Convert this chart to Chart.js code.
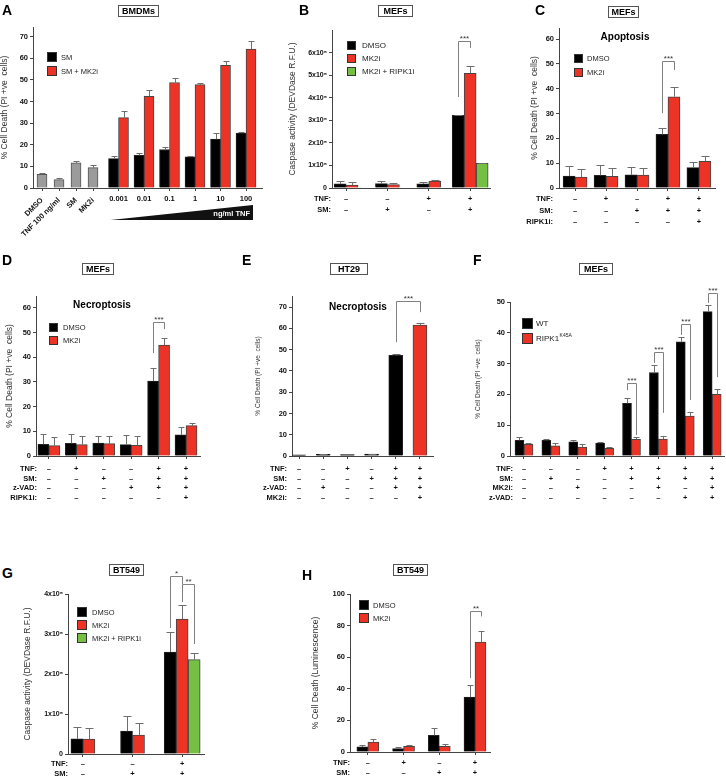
<!DOCTYPE html>
<html>
<head>
<meta charset="utf-8">
<script src="https://cdn.jsdelivr.net/npm/chart.js@4.4.0/dist/chart.umd.min.js"></script>
<style>
  body { margin: 0; background: #fff; }
  #wrap { position: relative; width: 726px; height: 779px; overflow: hidden; font-family: 'Liberation Sans', Arial, sans-serif; }
  canvas { position: absolute; }
  .lt { position: absolute; font-weight: bold; font-size: 14px; line-height: 14px; }
  .bx { position: absolute; height: 12px; box-sizing: border-box; border: 1px solid #555; font-weight: bold; font-size: 9px; line-height: 10px; text-align: center; }
  .sub { position: absolute; font-weight: bold; font-size: 10px; line-height: 12px; transform: translateX(-50%); white-space: nowrap; }
</style>
</head>
<body>
<div id="wrap">
  <canvas id="cA" width="270" height="245" style="left:0;top:0"></canvas>
  <canvas id="cB" width="215" height="245" style="left:280px;top:0"></canvas>
  <canvas id="cC" width="201" height="245" style="left:525px;top:0"></canvas>
  <canvas id="cD" width="210" height="255" style="left:0;top:250px"></canvas>
  <canvas id="cE" width="190" height="255" style="left:250px;top:250px"></canvas>
  <canvas id="cF" width="256" height="255" style="left:470px;top:250px"></canvas>
  <canvas id="cG" width="200" height="219" style="left:15px;top:560px"></canvas>
  <canvas id="cH" width="190" height="219" style="left:305px;top:560px"></canvas>

  <div class="lt" style="left:2px;top:3px">A</div>
  <div class="lt" style="left:299px;top:3px">B</div>
  <div class="lt" style="left:535px;top:3px">C</div>
  <div class="lt" style="left:2px;top:253px">D</div>
  <div class="lt" style="left:242px;top:253px">E</div>
  <div class="lt" style="left:473px;top:253px">F</div>
  <div class="lt" style="left:2px;top:566px">G</div>
  <div class="lt" style="left:302px;top:568px">H</div>

  <div class="bx" style="left:118px;top:5px;width:41px">BMDMs</div>
  <div class="bx" style="left:378px;top:5px;width:35px">MEFs</div>
  <div class="bx" style="left:608px;top:6px;width:31px">MEFs</div>
  <div class="bx" style="left:82px;top:263px;width:32px">MEFs</div>
  <div class="bx" style="left:330px;top:263px;width:38px">HT29</div>
  <div class="bx" style="left:579px;top:263px;width:34px">MEFs</div>
  <div class="bx" style="left:109px;top:564px;width:35px">BT549</div>
  <div class="bx" style="left:393px;top:564px;width:35px">BT549</div>

  <div class="sub" style="left:625px;top:31px">Apoptosis</div>
  <div class="sub" style="left:102px;top:299px">Necroptosis</div>
  <div class="sub" style="left:358px;top:301px">Necroptosis</div>
</div>

<script>
const FONT = "'Liberation Sans', Arial, Helvetica, sans-serif";
const AXIS = '#444';
const BLACK = '#000000', RED = '#ec3326', GREEN = '#74bf44', GREY = '#9b9b9b';

// ---------- A: BMDMs ----------
const aCats = ['DMSO', 'TNF 100 ng/ml', 'SM', 'MK2i', '0.001', '0.01', '0.1', '1', '10', '100'];
const aPos = [0, 1, 2, 3, 4.5, 6, 7.5, 9, 10.5, 12];
const aCtrl = [6.3, 3.9, 11.6, 9.4, null, null, null, null, null, null];
const aCtrlErr = [0.5, 0.6, 0.7, 1.1, 0, 0, 0, 0, 0, 0];
const aSM = [null, null, null, null, 13.6, 15.1, 17.8, 14.4, 22.6, 25.4];
const aSMErr = [0, 0, 0, 0, 1.1, 1.1, 1.1, 0.3, 3.0, 0.3];
const aSMMK2i = [null, null, null, null, 32.6, 42.4, 48.8, 47.8, 56.8, 64.3];
const aSMMK2iErr = [0, 0, 0, 0, 2.9, 2.8, 2.3, 0.8, 1.8, 3.9];

// ---------- B: MEFs caspase ----------
const bTNF = ['–', '–', '+', '+'];
const bSM = ['–', '+', '–', '+'];
const bDMSO = [17000, 18000, 17000, 300000];
const bDMSOErr = [11000, 9000, 8000, 2000];
const bMK2i = [12000, 14000, 29000, 474000];
const bMK2iErr = [11000, 8000, 3000, 31000];
const bMK2iRIPK1i = [null, null, null, 102000];
const bMK2iRIPK1iErr = [0, 0, 0, 2000];
const bYLabels = ['0', '1x10⁵', '2x10⁵', '3x10⁵', '4x10⁵', '5x10⁵', '6x10⁵'];
const bSig = [{ from: [0, 3], to: [1, 3], top: 607000, left: 376000, right: 579000, text: '***' }];

// ---------- C: MEFs apoptosis ----------
const cTNF = ['–', '+', '–', '+', '+'];
const cSM = ['–', '–', '+', '+', '+'];
const cRIPK1i = ['–', '–', '–', '–', '+'];
const cDMSO = [4.8, 5.1, 5.3, 21.6, 8.2];
const cDMSOErr = [4.2, 4.1, 3.0, 2.7, 2.2];
const cMK2i = [4.4, 4.7, 5.2, 36.8, 10.8];
const cMK2iErr = [3.3, 3.5, 2.8, 4.0, 2.0];
const cSig = [{ from: [0, 3], to: [1, 3], top: 51.2, left: 30.2, right: 47.6, text: '***' }];

// ---------- D: MEFs necroptosis ----------
const dTNF = ['–', '+', '–', '–', '+', '+'];
const dSM = ['–', '–', '+', '–', '+', '+'];
const dZVAD = ['–', '–', '–', '+', '+', '+'];
const dRIPK1i = ['–', '–', '–', '–', '–', '+'];
const dDMSO = [4.7, 5.1, 5.2, 4.6, 30.3, 8.6];
const dDMSOErr = [4.2, 4.0, 3.0, 3.9, 5.2, 3.2];
const dMK2i = [4.2, 4.6, 5.0, 4.3, 44.9, 12.3];
const dMK2iErr = [3.5, 3.5, 3.0, 3.6, 2.8, 1.0];
const dSig = [{ from: [0, 4], to: [1, 4], top: 54.3, left: 41.7, right: 51.4, text: '***' }];

// ---------- E: HT29 necroptosis ----------
const eTNF = ['–', '–', '+', '–', '+', '+'];
const eSM = ['–', '–', '–', '+', '+', '+'];
const eZVAD = ['–', '+', '–', '–', '+', '+'];
const eMK2iRow = ['–', '–', '–', '–', '–', '+'];
const eCtrl = [0.5, 0.8, 0.7, 0.9, 47.3, null];
const eCtrlErr = [0.1, 0.2, 0.2, 0.2, 0.5, 0];
const eMK2i = [null, null, null, null, null, 61.5];
const eMK2iErr = [0, 0, 0, 0, 0, 0.9];
const eSig = [{ from: [0, 4], to: [1, 5], top: 72.8, left: 53.5, right: 67.6, text: '***' }];

// ---------- F: MEFs WT vs RIPK1 K45A ----------
const fTNF = ['–', '–', '–', '+', '+', '+', '+', '+'];
const fSM = ['–', '+', '–', '–', '+', '+', '+', '+'];
const fMK2i = ['–', '–', '+', '–', '–', '+', '–', '+'];
const fZVAD = ['–', '–', '–', '–', '–', '–', '+', '+'];
const fWT = [5.1, 5.1, 4.6, 4.2, 17.1, 27.1, 37.1, 46.9];
const fWTErr = [1.0, 0.4, 0.5, 0.2, 1.8, 2.6, 1.4, 2.2];
const fK45A = [3.8, 3.3, 2.9, 2.5, 5.4, 5.5, 13.0, 20.0];
const fK45AErr = [0.4, 0.8, 1.0, 0.3, 0.9, 0.9, 1.4, 1.9];
const fSig = [
  { from: [0, 4], to: [1, 4], top: 23.7, left: 21.4, right: 6.8, text: '***' },
  { from: [0, 5], to: [1, 5], top: 33.8, left: 30.2, right: 14.0, text: '***' },
  { from: [0, 6], to: [1, 6], top: 42.9, left: 39.3, right: 18.2, text: '***' },
  { from: [0, 7], to: [1, 7], top: 52.9, left: 49.7, right: 25.6, text: '***' }
];

// ---------- G: BT549 caspase ----------
const gTNF = ['–', '–', '+'];
const gSM = ['–', '+', '+'];
const gDMSO = [38000, 57000, 255000];
const gDMSOErr = [30000, 38000, 50000];
const gMK2i = [37000, 47000, 337000];
const gMK2iErr = [29000, 31000, 36000];
const gMK2iRIPK1i = [null, null, 236000];
const gMK2iRIPK1iErr = [0, 0, 17000];
const gYLabels = ['0', '1x10⁵', '2x10⁵', '3x10⁵', '4x10⁵'];
const gSig = [
  { from: [0, 2], to: [1, 2], top: 445000, left: 315000, right: 425000, text: '*' },
  { from: [1, 2], to: [2, 2], top: 425000, left: 380000, right: 275000, text: '**' }
];

// ---------- H: BT549 luminescence ----------
const hTNF = ['–', '+', '–', '+'];
const hSM = ['–', '–', '+', '+'];
const hDMSO = [3.2, 2.1, 10.5, 34.7];
const hDMSOErr = [1.4, 0.8, 4.7, 7.4];
const hMK2i = [6.3, 3.6, 3.6, 69.5];
const hMK2iErr = [1.9, 0.8, 1.7, 7.3];
const hSig = [{ from: [0, 3], to: [1, 3], top: 89, left: 46.7, right: 85.8, text: '**' }];

// ---------------- plugins ----------------
const cfgs = {};
const crisp = v => Math.round(v) + 0.5;

const errorBars = {
  id: 'errorBars',
  afterDatasetsDraw(chart) {
    const ctx = chart.ctx, y = chart.scales.y;
    chart.data.datasets.forEach((ds, d) => {
      const meta = chart.getDatasetMeta(d);
      ds.data.forEach((v, i) => {
        const e = ds.errors[i];
        if (v == null || !e) return;
        const bar = meta.data[i];
        const x = crisp(bar.x);
        const top = crisp(y.getPixelForValue(v + e));
        const cap = Math.max(2, Math.round(bar.width * 0.3));
        ctx.save();
        ctx.strokeStyle = '#6e6e6e';
        ctx.lineWidth = 1;
        ctx.beginPath();
        ctx.moveTo(x, bar.y);
        ctx.lineTo(x, top);
        ctx.moveTo(x - cap, top);
        ctx.lineTo(x + cap, top);
        ctx.stroke();
        ctx.restore();
      });
    });
  }
};

const brackets = {
  id: 'brackets',
  afterDraw(chart) {
    const c = cfgs[chart.canvas.id];
    if (!c.sig) return;
    const ctx = chart.ctx, y = chart.scales.y;
    c.sig.forEach(s => {
      const xa = crisp(chart.getDatasetMeta(s.from[0]).data[s.from[1]].x);
      const xb = crisp(chart.getDatasetMeta(s.to[0]).data[s.to[1]].x);
      const yt = crisp(y.getPixelForValue(s.top));
      ctx.save();
      ctx.strokeStyle = '#808080';
      ctx.lineWidth = 1;
      ctx.beginPath();
      ctx.moveTo(xa, y.getPixelForValue(s.left));
      ctx.lineTo(xa, yt);
      ctx.lineTo(xb, yt);
      ctx.lineTo(xb, y.getPixelForValue(s.right));
      ctx.stroke();
      ctx.fillStyle = '#333';
      ctx.font = '8px ' + FONT;
      ctx.textAlign = 'center';
      ctx.textBaseline = 'alphabetic';
      ctx.fillText(s.text, (xa + xb) / 2, yt - 1);
      ctx.restore();
    });
  }
};

const boxLegend = {
  id: 'boxLegend',
  afterDraw(chart) {
    const L = cfgs[chart.canvas.id].legend;
    if (!L) return;
    const ctx = chart.ctx, a = chart.chartArea;
    let row = 0;
    ctx.save();
    chart.data.datasets.forEach(ds => {
      if (ds.inLegend === false) return;
      const x = Math.round(a.left + L.dx), yb = Math.round(a.top + L.dy + row * L.step);
      ctx.fillStyle = ds.backgroundColor;
      ctx.fillRect(x, yb, L.box, L.box);
      ctx.strokeStyle = '#333';
      ctx.lineWidth = 1;
      ctx.strokeRect(x + 0.5, yb + 0.5, L.box - 1, L.box - 1);
      ctx.fillStyle = '#222';
      ctx.font = L.size + 'px ' + FONT;
      ctx.textAlign = 'left';
      ctx.textBaseline = 'middle';
      const tx = x + L.box + L.gap, ty = yb + L.box / 2 + 0.5;
      ctx.fillText(ds.label, tx, ty);
      if (ds.sup) {
        const w = ctx.measureText(ds.label).width;
        ctx.font = (L.size * 0.62).toFixed(1) + 'px ' + FONT;
        ctx.fillText(ds.sup, tx + w + 0.5, ty - L.size * 0.38);
        ctx.font = L.size + 'px ' + FONT;
      }
      row++;
    });
    ctx.restore();
  }
};

const condRows = {
  id: 'condRows',
  afterDraw(chart) {
    const c = cfgs[chart.canvas.id];
    if (!c.rowNames) return;
    const ctx = chart.ctx, x = chart.scales.x;
    ctx.save();
    ctx.font = 'bold ' + c.tickSize + 'px ' + FONT;
    ctx.fillStyle = '#111';
    ctx.textAlign = 'right';
    ctx.textBaseline = 'middle';
    c.rowNames.forEach((r, i) => {
      ctx.fillText(r, chart.chartArea.left + c.rowDx, x.top + 3 + c.tickPad + c.lh * (i + 0.5));
    });
    ctx.restore();
  }
};

const wedge = {
  id: 'wedge',
  afterDraw(chart) {
    const c = cfgs[chart.canvas.id];
    if (!c.wedge) return;
    const ctx = chart.ctx, x = chart.scales.x, b = chart.chartArea.bottom;
    const x0 = x.getPixelForValue(aPos[4]) - 8, x1 = x.getPixelForValue(aPos[9]) + 7;
    ctx.save();
    ctx.fillStyle = '#111';
    ctx.beginPath();
    ctx.moveTo(x0, b + 32);
    ctx.lineTo(x1, b + 17);
    ctx.lineTo(x1, b + 32);
    ctx.closePath();
    ctx.fill();
    ctx.fillStyle = '#fff';
    ctx.font = 'bold 7.5px ' + FONT;
    ctx.textAlign = 'right';
    ctx.textBaseline = 'middle';
    ctx.fillText('ng/ml TNF', x1 - 3, b + 26);
    ctx.restore();
  }
};

// ---------------- panel builder ----------------
function panel(id, o) {
  cfgs[id] = o;
  const datasets = o.series.map(s => ({
    label: s.label,
    sup: s.sup,
    inLegend: s.inLegend,
    data: s.data,
    errors: s.err,
    backgroundColor: s.color,
    borderColor: s.border || '#222',
    borderWidth: 1,
    borderSkipped: 'start',
    barThickness: o.barW,
    skipNull: true
  }));
  const tickFont = { family: FONT, size: o.tickSize, weight: 'bold', lineHeight: o.lh + 'px' };
  const scales = {
    x: {
      type: 'linear', min: o.xMin, max: o.xMax, bounds: 'data', offset: false,
      afterBuildTicks: s => { s.ticks = o.pos.map(v => ({ value: v })); },
      afterFit: s => { s.height = o.xH; },
      grid: { drawOnChartArea: false, offset: false, tickLength: 3, color: AXIS },
      border: { color: AXIS, width: 1 },
      ticks: {
        autoSkip: false, minRotation: 0, maxRotation: 0, padding: o.tickPad, color: '#111',
        font: tickFont, callback: o.xLabel
      }
    },
    y: {
      type: 'linear', min: 0, max: o.yMax, bounds: 'data',
      afterFit: s => { s.width = o.yW; },
      grid: { drawOnChartArea: false, tickLength: 3, color: AXIS },
      border: { color: AXIS, width: 1 },
      ticks: {
        stepSize: o.step, includeBounds: false, padding: 2, color: '#111',
        font: { family: FONT, size: o.yTickSize || 7.5, weight: 'bold' },
        callback: o.yLabel || (v => v)
      },
      title: {
        display: true, text: o.yTitle, color: '#333', padding: { top: o.titlePad, bottom: 0 },
        font: { family: FONT, size: o.titleSize || 8.5, weight: 'normal' }
      }
    }
  };
  Object.assign(scales, o.extraScales || {});
  return new Chart(document.getElementById(id), {
    type: 'bar',
    data: { labels: o.pos, datasets },
    options: {
      responsive: false,
      animation: false,
      devicePixelRatio: 1,
      layout: { padding: { top: o.padTop, right: o.padRight, left: 0, bottom: 0 } },
      plugins: { legend: { display: false }, tooltip: { enabled: false } },
      scales
    },
    plugins: [errorBars, brackets, boxLegend, condRows, wedge]
  });
}

const rowsLabel = rows => (v, i) => rows.map(r => r[i]);
const idx = n => Array.from({ length: n }, (_, i) => i);

// A
panel('cA', {
  pos: aPos, xMin: -0.53, xMax: 12.94, barW: 10,
  padTop: 27, padRight: 8, yW: 33, xH: 57,
  yMax: 74.5, step: 10, yTitle: '% Cell Death (PI +ve  cells)', titlePad: 0,
  tickSize: 7.5, lh: 9, tickPad: 3.5,
  xLabel: (v, i) => (i >= 4 ? aCats[i] : ''),
  wedge: true,
  legend: { dx: 14, dy: 25, box: 10, step: 14, gap: 4, size: 7.5 },
  series: [
    { label: 'Control', inLegend: false, data: aCtrl, err: aCtrlErr, color: GREY, border: '#555' },
    { label: 'SM', data: aSM, err: aSMErr, color: BLACK },
    { label: 'SM + MK2i', data: aSMMK2i, err: aSMMK2iErr, color: RED, border: '#444' }
  ],
  extraScales: {
    // rotated control labels, anchored on the y = 0 line so they are not clipped
    x2: {
      type: 'linear', axis: 'x', position: { y: 0 }, min: -0.53, max: 12.94, bounds: 'data', offset: false,
      afterBuildTicks: s => { s.ticks = aPos.slice(0, 4).map(v => ({ value: v })); },
      grid: { display: false },
      border: { display: false },
      ticks: {
        autoSkip: false, minRotation: 45, maxRotation: 45, padding: 0, color: '#111',
        font: { family: FONT, size: 7.5, weight: 'bold' },
        callback: (v, i) => aCats[i]
      }
    }
  }
});

// B
panel('cB', {
  pos: idx(4), xMin: -0.34, xMax: 3.48, barW: 12,
  padTop: 30, padRight: 5, yW: 52, xH: 57,
  yMax: 653000, step: 100000, yLabel: v => bYLabels[Math.round(v / 100000)], yTickSize: 7,
  yTitle: 'Caspase activity (DEVDase R.F.U.)', titlePad: 8,
  tickSize: 7.5, lh: 11, tickPad: 2.5,
  xLabel: rowsLabel([bTNF, bSM]), rowNames: ['TNF:', 'SM:'], rowDx: -1,
  sig: bSig,
  legend: { dx: 15, dy: 11, box: 9, step: 13, gap: 6, size: 8 },
  series: [
    { label: 'DMSO', data: bDMSO, err: bDMSOErr, color: BLACK },
    { label: 'MK2i', data: bMK2i, err: bMK2iErr, color: RED, border: '#444' },
    { label: 'MK2i + RIPK1i', data: bMK2iRIPK1i, err: bMK2iRIPK1iErr, color: GREEN, border: '#444' }
  ]
});

// C
panel('cC', {
  pos: idx(5), xMin: -0.52, xMax: 4.52, barW: 12,
  padTop: 28, padRight: 11, yW: 34, xH: 57,
  yMax: 64.5, step: 10, yTitle: '% Cell Death (PI +ve  cells)', titlePad: 4.5,
  tickSize: 7.5, lh: 11.5, tickPad: 2.5,
  xLabel: rowsLabel([cTNF, cSM, cRIPK1i]), rowNames: ['TNF:', 'SM:', 'RIPK1i:'], rowDx: -6,
  sig: cSig,
  legend: { dx: 15, dy: 26, box: 9, step: 14, gap: 4, size: 7.5 },
  series: [
    { label: 'DMSO', data: cDMSO, err: cDMSOErr, color: BLACK },
    { label: 'MK2i', data: cMK2i, err: cMK2iErr, color: RED, border: '#444' }
  ]
});

// D
panel('cD', {
  pos: idx(6), xMin: -0.47, xMax: 5.51, barW: 11,
  padTop: 46, padRight: 10, yW: 36, xH: 49,
  yMax: 64.8, step: 10, yTitle: '% Cell Death (PI +ve  cells)', titlePad: 5,
  tickSize: 7.5, lh: 9.6, tickPad: 5.2,
  xLabel: rowsLabel([dTNF, dSM, dZVAD, dRIPK1i]), rowNames: ['TNF:', 'SM:', 'z-VAD:', 'RIPK1i:'], rowDx: 1,
  sig: dSig,
  legend: { dx: 13, dy: 27, box: 9, step: 13, gap: 5, size: 7.5 },
  series: [
    { label: 'DMSO', data: dDMSO, err: dDMSOErr, color: BLACK },
    { label: 'MK2i', data: dMK2i, err: dMK2iErr, color: RED, border: '#444' }
  ]
});

// E
panel('cE', {
  pos: idx(6), xMin: -0.29, xMax: 5.54, barW: 14,
  padTop: 46, padRight: 7, yW: 42, xH: 49,
  yMax: 75.2, step: 10, yTitle: '% Cell Death (PI +ve  cells)', titlePad: 4, titleSize: 6.5,
  tickSize: 7.5, lh: 9.6, tickPad: 5.2,
  xLabel: rowsLabel([eTNF, eSM, eZVAD, eMK2iRow]), rowNames: ['TNF:', 'SM:', 'z-VAD:', 'MK2i:'], rowDx: -5,
  sig: eSig,
  series: [
    { label: 'DMSO', data: eCtrl, err: eCtrlErr, color: BLACK },
    { label: 'MK2i', data: eMK2i, err: eMK2iErr, color: RED, border: '#444' }
  ]
});

// F
panel('cF', {
  pos: idx(8), xMin: -0.52, xMax: 7.44, barW: 9,
  padTop: 52, padRight: 2, yW: 40, xH: 49,
  yMax: 50, step: 10, yTitle: '% Cell Death (PI +ve  cells)', titlePad: 4, titleSize: 6.5,
  tickSize: 7.5, lh: 9.6, tickPad: 5.2,
  xLabel: rowsLabel([fTNF, fSM, fMK2i, fZVAD]), rowNames: ['TNF:', 'SM:', 'MK2i:', 'z-VAD:'], rowDx: 3,
  sig: fSig,
  legend: { dx: 12, dy: 16, box: 11, step: 15, gap: 3, size: 8 },
  series: [
    { label: 'WT', data: fWT, err: fWTErr, color: BLACK },
    { label: 'RIPK1', sup: 'K45A', data: fK45A, err: fK45AErr, color: RED, border: '#444' }
  ]
});

// G
panel('cG', {
  pos: idx(3), xMin: -0.3, xMax: 2.44, barW: 12,
  padTop: 34, padRight: 11, yW: 53, xH: 25,
  yMax: 400000, step: 100000, yLabel: v => gYLabels[Math.round(v / 100000)], yTickSize: 7,
  yTitle: 'Caspase activity (DEVDase R.F.U.)', titlePad: 8,
  tickSize: 7.5, lh: 10, tickPad: 2,
  xLabel: rowsLabel([gTNF, gSM]), rowNames: ['TNF:', 'SM:'], rowDx: 0,
  sig: gSig,
  legend: { dx: 9, dy: 13, box: 10, step: 13, gap: 5, size: 7.5 },
  series: [
    { label: 'DMSO', data: gDMSO, err: gDMSOErr, color: BLACK },
    { label: 'MK2i', data: gMK2i, err: gMK2iErr, color: RED, border: '#444' },
    { label: 'MK2i + RIPK1i', data: gMK2iRIPK1i, err: gMK2iRIPK1iErr, color: GREEN, border: '#444' }
  ]
});

// H
panel('cH', {
  pos: idx(4), xMin: -0.5, xMax: 3.42, barW: 11,
  padTop: 34, padRight: 5, yW: 45, xH: 27,
  yMax: 100, step: 20, yTitle: '% Cell Death (Luminescence)', titlePad: 6,
  tickSize: 7.5, lh: 10, tickPad: 3,
  xLabel: rowsLabel([hTNF, hSM]), rowNames: ['TNF:', 'SM:'], rowDx: 0,
  sig: hSig,
  legend: { dx: 9, dy: 6, box: 10, step: 13, gap: 4, size: 7.5 },
  series: [
    { label: 'DMSO', data: hDMSO, err: hDMSOErr, color: BLACK },
    { label: 'MK2i', data: hMK2i, err: hMK2iErr, color: RED, border: '#444' }
  ]
});
</script>
</body>
</html>
